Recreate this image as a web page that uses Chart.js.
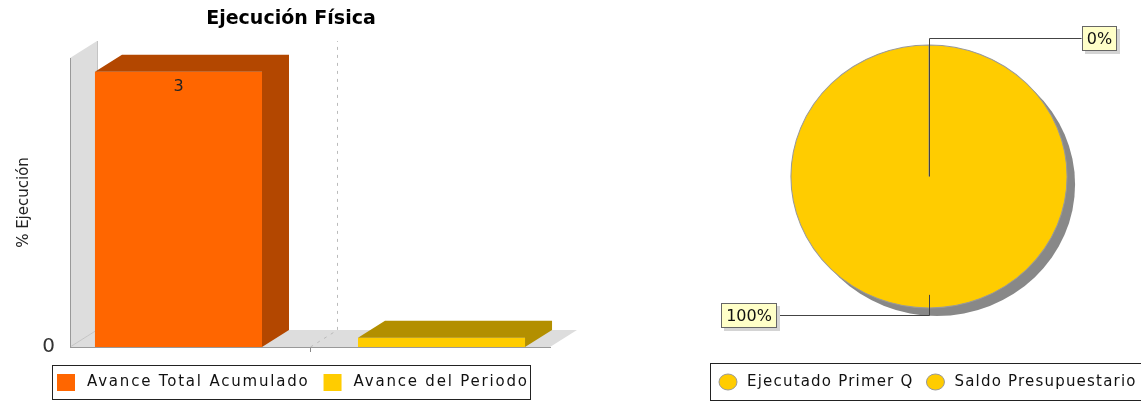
<!DOCTYPE html>
<html>
<head>
<meta charset="utf-8">
<script src="https://cdn.jsdelivr.net/npm/chart.js@4.4.0/dist/chart.umd.min.js"></script>
<style>
  body { margin: 0; background: #fff; }
  #barChart { position: absolute; left: 0; top: 0; }
  #pieChart { position: absolute; left: 600px; top: 0; }
</style>
</head>
<body>
<canvas id="barChart" width="582" height="401"></canvas>
<canvas id="pieChart" width="541" height="401"></canvas>
<script>
let barCategories = [""];
let barSeries = ["Avance Total Acumulado", "Avance del Periodo"];
let barValues = [[3], [0.1]];
let barColors = ["#ff6600", "#ffcc00"];
let barDarkColors = ["#b34700", "#b38f00"];
let yTicks = [0];

let pieLabels = ["Ejecutado Primer Q", "Saldo Presupuestario"];
let pieValues = [0, 100];
let pieColors = ["#ffcc00", "#ffcc00"];

const FONT = "'DejaVu Sans', sans-serif";
const DX = 27, DY = -17;
const PIE_SX = 1.05;

// back wall + floor of the 3d plot
const walls3d = {
  id: "walls3d",
  beforeDraw(chart) {
    const ctx = chart.ctx;
    const a = chart.chartArea;
    ctx.save();
    ctx.fillStyle = "#dddddd";
    ctx.beginPath();
    ctx.moveTo(a.left, a.bottom);
    ctx.lineTo(a.left, a.top);
    ctx.lineTo(a.left + DX, a.top + DY);
    ctx.lineTo(a.left + DX, a.bottom + DY);
    ctx.closePath();
    ctx.fill();
    ctx.beginPath();
    ctx.moveTo(a.left, a.bottom);
    ctx.lineTo(a.right, a.bottom);
    ctx.lineTo(a.right + DX, a.bottom + DY);
    ctx.lineTo(a.left + DX, a.bottom + DY);
    ctx.closePath();
    ctx.fill();

    ctx.strokeStyle = "#c4c4c4";
    ctx.lineWidth = 1;
    ctx.beginPath();
    ctx.moveTo(a.left, a.bottom);
    ctx.lineTo(a.left + DX, a.bottom + DY);
    ctx.moveTo(a.left + DX + 0.5, a.top + DY);
    ctx.lineTo(a.left + DX + 0.5, a.bottom + DY);
    ctx.stroke();

    // category gridline
    let x = Math.round(chart.scales.x.getPixelForValue(0)) + 0.5;
    ctx.setLineDash([3, 5]);
    ctx.strokeStyle = "#bbbbbb";
    ctx.beginPath();
    ctx.moveTo(x, a.bottom);
    ctx.lineTo(x + DX, a.bottom + DY);
    ctx.lineTo(x + DX, a.top + DY);
    ctx.stroke();
    ctx.restore();
  }
};

// top and side faces of the bars, value labels
const bars3d = {
  id: "bars3d",
  afterDatasetsDraw(chart) {
    const ctx = chart.ctx;
    ctx.save();
    chart.data.datasets.forEach((ds, i) => {
      chart.getDatasetMeta(i).data.forEach((bar, j) => {
        let p = bar.getProps(["x", "y", "base", "width"], true);
        let l = p.x - p.width / 2, r = p.x + p.width / 2;
        let t = Math.min(p.y, p.base), b = Math.max(p.y, p.base);
        ctx.fillStyle = barDarkColors[i];
        ctx.beginPath();
        ctx.moveTo(l, t);
        ctx.lineTo(l + DX, t + DY);
        ctx.lineTo(r + DX, t + DY);
        ctx.lineTo(r + DX, b + DY);
        ctx.lineTo(r, b);
        ctx.lineTo(r, t);
        ctx.closePath();
        ctx.fill();
        if (b - t > 20) {
          ctx.fillStyle = "#222";
          ctx.font = "16px " + FONT;
          ctx.textAlign = "center";
          ctx.textBaseline = "middle";
          ctx.fillText(String(ds.data[j]), p.x, t + 15);
        }
      });
    });
    ctx.restore();
  }
};

function legendBox(cfg) {
  return {
    id: "legendBox",
    afterDraw(chart) {
      const ctx = chart.ctx;
      ctx.save();
      ctx.strokeStyle = "#222";
      ctx.lineWidth = 1;
      ctx.strokeRect(cfg.left + 0.5, cfg.top + 0.5, cfg.width, cfg.height);
      ctx.font = "15px " + FONT;
      ctx.letterSpacing = cfg.spacing;
      ctx.textBaseline = "middle";
      let cy = cfg.top + cfg.height / 2 + 0.5;
      let x = cfg.left + cfg.first;
      cfg.names.forEach((name, i) => {
        if (cfg.marker === "square") {
          ctx.fillStyle = cfg.colors[i];
          ctx.fillRect(x, cy - 8.5, 18, 17);
        } else {
          ctx.fillStyle = cfg.colors[i];
          ctx.strokeStyle = "#999";
          ctx.beginPath();
          ctx.ellipse(x + 9, cy, 9, 8, 0, 0, Math.PI * 2);
          ctx.fill();
          ctx.stroke();
        }
        ctx.fillStyle = "#111";
        ctx.fillText(name, x + cfg.textOffset, cy);
        x += cfg.textOffset + ctx.measureText(name).width + cfg.gap;
      });
      ctx.restore();
    }
  };
}

new Chart(document.getElementById("barChart"), {
  type: "bar",
  data: {
    labels: barCategories,
    datasets: barSeries.map((name, i) => ({
      label: name,
      data: barValues[i],
      backgroundColor: barColors[i],
      borderWidth: 0,
      categoryPercentage: 1.096,
      barPercentage: 0.635,
    })),
  },
  options: {
    responsive: false,
    animation: false,
    layout: { padding: { left: 0, right: 0, top: 0, bottom: 39 } },
    plugins: {
      legend: { display: false },
      tooltip: { enabled: false },
      title: {
        display: true,
        text: "Ejecución Física",
        color: "#000",
        font: { family: FONT, size: 19, weight: "bold" },
        padding: { top: 8, bottom: 27.2 },
      },
    },
    scales: {
      x: {
        grid: { display: true, drawOnChartArea: false, drawTicks: true, tickLength: 5, offset: false, color: "#888" },
        border: { display: true, color: "#999" },
        ticks: { display: false },
        afterFit(s) { s.height = 15; },
      },
      y: {
        min: 0,
        max: 3.15,
        afterBuildTicks(s) { s.ticks = yTicks.map((v) => ({ value: v })); },
        grid: { display: false },
        border: { display: true, color: "#999" },
        ticks: { color: "#333", padding: 7, font: { family: FONT, size: 20 } },
        title: {
          display: true,
          text: "% Ejecución",
          color: "#222",
          font: { family: FONT, size: 15 },
          padding: { top: 15, bottom: 0 },
        },
        afterFit(s) { s.width = 70; },
      },
      // empty right-hand space for the 3d depth
      depth: {
        type: "linear",
        position: "right",
        grid: { display: false },
        border: { display: false },
        ticks: { display: false },
        afterFit(s) { s.width = 32; },
      },
    },
  },
  plugins: [walls3d, bars3d, legendBox({
    left: 52, top: 365, width: 478, height: 34, first: 5,
    marker: "square", textOffset: 30, gap: 14, spacing: "1.8px",
    names: barSeries, colors: barColors,
  })],
});

// shadow and elliptical shape of the pie
const pieShape = {
  id: "pieShape",
  beforeDatasetsDraw(chart) {
    const ctx = chart.ctx;
    let a = chart.getDatasetMeta(0).data[0];
    ctx.save();
    ctx.fillStyle = "#888888";
    ctx.beginPath();
    ctx.ellipse(a.x + 8, a.y + 8, a.outerRadius * PIE_SX, a.outerRadius, 0, 0, Math.PI * 2);
    ctx.fill();
    ctx.restore();
    ctx.save();
    ctx.translate(a.x, a.y);
    ctx.scale(PIE_SX, 1);
    ctx.translate(-a.x, -a.y);
  },
  afterDatasetsDraw(chart) {
    chart.ctx.restore();
  }
};

const pieLabelBoxes = {
  id: "pieLabelBoxes",
  afterDatasetsDraw(chart) {
    const ctx = chart.ctx;
    let total = pieValues.reduce((s, v) => s + v, 0);
    ctx.save();
    ctx.font = "16px " + FONT;
    ctx.lineWidth = 1;
    chart.getDatasetMeta(0).data.forEach((arc, i) => {
      let p = arc.getProps(["x", "y", "startAngle", "endAngle", "outerRadius"], true);
      let x = Math.round(p.x) + 0.5, y = p.y, r = p.outerRadius;
      let mid = (p.startAngle + p.endAngle) / 2;
      let c = Math.cos(mid), s = Math.sin(mid);
      let right = Math.abs(c) > 1e-6 ? c > 0 : s < 0;
      ctx.strokeStyle = "#444";
      ctx.beginPath();
      if (p.endAngle - p.startAngle === 0) {
        ctx.moveTo(x, y);
        ctx.lineTo(x + c * r * PIE_SX, y + s * r);
      }
      let ey = Math.round(y + s * r * 1.05) + 0.5;
      let ex = x + c * r * 1.05 * PIE_SX;
      let edge = right ? x + r * PIE_SX + 14 : x - r * PIE_SX - 14;
      ctx.moveTo(x + c * r * 0.9 * PIE_SX, y + s * r * 0.9);
      ctx.lineTo(ex, ey);
      ctx.lineTo(edge, ey);
      ctx.stroke();

      let text = Math.round(pieValues[i] / total * 100) + "%";
      let w = Math.round(ctx.measureText(text).width + 10), h = 25;
      let bx = Math.round(right ? edge : edge - w), by = Math.round(ey - h / 2);
      ctx.fillStyle = "#d4d4d4";
      ctx.fillRect(bx + 3, by + 3, w, h);
      ctx.fillStyle = "#ffffc8";
      ctx.fillRect(bx, by, w, h);
      ctx.strokeStyle = "#666";
      ctx.strokeRect(bx + 0.5, by + 0.5, w - 1, h - 1);
      ctx.fillStyle = "#111";
      ctx.textAlign = "center";
      ctx.textBaseline = "middle";
      ctx.fillText(text, bx + w / 2, by + h / 2 + 1);
    });
    ctx.restore();
  }
};

new Chart(document.getElementById("pieChart"), {
  type: "pie",
  data: {
    labels: pieLabels,
    datasets: [{
      data: pieValues,
      backgroundColor: pieColors,
      borderColor: "#999",
      borderWidth: 1,
      clip: false,
    }],
  },
  options: {
    responsive: false,
    animation: false,
    radius: 131.5,
    layout: { padding: { left: 169, right: 52, top: 30, bottom: 78 } },
    plugins: {
      legend: { display: false },
      tooltip: { enabled: false },
    },
  },
  plugins: [pieShape, pieLabelBoxes, legendBox({
    left: 110, top: 363, width: 440, height: 37, first: 9,
    marker: "circle", textOffset: 28, gap: 13, spacing: "1.2px",
    names: pieLabels, colors: pieColors,
  })],
});
</script>
</body>
</html>
